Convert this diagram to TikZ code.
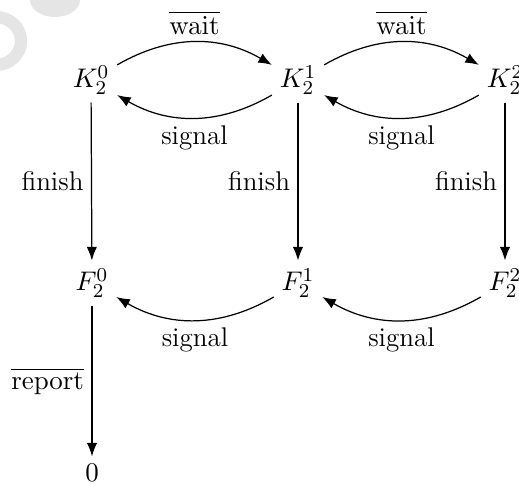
\documentclass[tikz,border=0pt]{standalone}
\usetikzlibrary{arrows.meta}
\begin{document}
\begin{tikzpicture}[x=0.4066pt,y=-0.4066pt,
  every node/.style={font=\fontsize{11}{13}\selectfont},
  st/.style={inner sep=3pt},
  arr/.style={-{Latex[length=5.5pt,width=4.2pt]},line width=0.5pt},
  lab/.style={inner sep=3pt}]
\useasboundingbox (0,0) rectangle (519,485);
\begin{scope}
\clip (0,0) rectangle (519,485);
% faint watermark
\fill[black!10] (30,0) arc[start angle=180,end angle=360,x radius=25,y radius=-17] -- cycle;
\draw[black!10,line width=5pt] (-4,17) arc[start angle=90,end angle=-90,x radius=25,y radius=-24];
\end{scope}
\node[st] (k0) at (91,80) {$K_2^0$};
\node[st] (k1) at (298,80) {$K_2^1$};
\node[st] (k2) at (505,80) {$K_2^2$};
\node[st] (f0) at (92,283) {$F_2^0$};
\node[st] (f1) at (298,283) {$F_2^1$};
\node[st] (f2) at (505,283) {$F_2^2$};
\node[st] (z) at (92,473) {$0$};
\draw[arr] (k0) to[bend left=30] node[above,lab] {$\overline{\mathrm{wait}}$} (k1);
\draw[arr] (k1) to[bend left=30] node[below,lab] {signal} (k0);
\draw[arr] (k1) to[bend left=30] node[above,lab] {$\overline{\mathrm{wait}}$} (k2);
\draw[arr] (k2) to[bend left=30] node[below,lab] {signal} (k1);
\draw[arr] (k0) -- node[left,lab] {finish} (f0);
\draw[arr] (k1) -- node[left,lab] {finish} (f1);
\draw[arr] (k2) -- node[left,lab] {finish} (f2);
\draw[arr] (f1) to[bend left=30] node[below,lab] {signal} (f0);
\draw[arr] (f2) to[bend left=30] node[below,lab] {signal} (f1);
\draw[arr] (f0) -- node[left,lab] {$\overline{\mathrm{report}}$} (z);
\end{tikzpicture}
\end{document}
